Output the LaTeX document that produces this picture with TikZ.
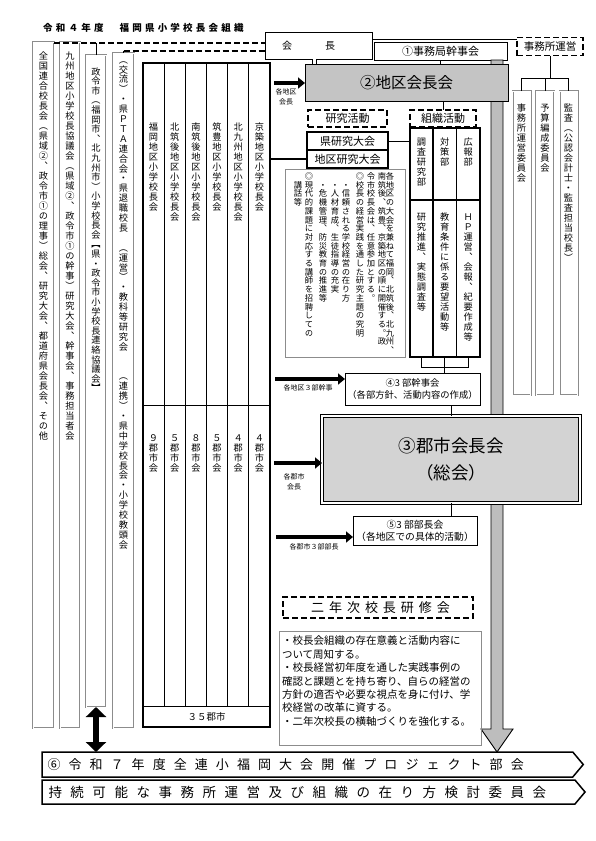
\documentclass[tikz,border=0pt]{standalone}
\usepackage{fontspec}
\usepackage{tikz}
\usetikzlibrary{arrows.meta,positioning,calc,shapes.symbols}
\newfontfamily\jp{Noto Sans CJK JP}
\newfontfamily\jpv[RawFeature=+vert]{Noto Sans CJK JP}
\definecolor{bargray}{HTML}{BDBDBD}
\definecolor{boxgray}{HTML}{C4C4C4}
\definecolor{sgray}{HTML}{D3D3D3}
\definecolor{linegray}{HTML}{8C8C8C}
\newcommand{\tatech}[1]{\ifx#1\relax\else\hbox to 1em{\hss\vrule height .88em depth .12em width 0pt\relax #1\hss}\expandafter\tatech\fi}
\newcommand{\tatebox}[4][10pt]{\vbox to #3{\edef\tatetmp{#4}\jpv\baselineskip=#1\relax\lineskiplimit=-5pt\vskip#2\relax\expandafter\tatech\tatetmp\relax\vfill}}
\newcommand{\tateline}[2][8.7pt]{\vbox{\edef\tatetmp{#2}\jpv\baselineskip=#1\relax\lineskiplimit=-5pt\expandafter\tatech\tatetmp\relax}}
\tikzset{
  box/.style={rectangle, draw, line width=0.8pt, inner sep=0pt, outer sep=0pt, align=center,
              font=\jp\fontsize{10}{12}\selectfont},
  colbox/.style={rectangle, draw=linegray, double=white, double distance=1pt, line width=0.5pt,
                 inner sep=0pt, outer sep=0pt, font=\fontsize{9.2}{10}\selectfont},
  cellbox/.style={rectangle, draw, line width=1pt, inner sep=0pt, outer sep=0pt,
                  font=\fontsize{9.2}{10}\selectfont},
  dashbox/.style={box, line width=1.8pt, dash pattern=on 6pt off 3pt},
  mainbox/.style={box, fill=boxgray, font=\jp\fontsize{15.5}{18}\selectfont},
  notebox/.style={rectangle, draw=linegray, line width=0.6pt, inner sep=0pt, outer sep=0pt},
  lbl/.style={font=\jp\fontsize{7}{10}\selectfont, align=center, inner sep=0pt},
  link/.style={draw, line width=0.9pt},
  dashlink/.style={draw, line width=1.6pt, dash pattern=on 6pt off 3pt},
  bigarrow/.style={line width=4.5pt, -{Triangle[length=7pt,width=11pt]}},
  updown/.style={line width=6pt, {Triangle[length=10pt,width=20pt]}-{Triangle[length=10pt,width=20pt]}},
  banner/.style={signal, signal to=east, signal pointer angle=100, draw, line width=1.5pt,
                 inner sep=0pt, outer sep=0pt, text width=520pt, align=left},
}
\begin{document}
\begin{tikzpicture}[x=1pt,y=-1pt]
\path[use as bounding box, fill=white] (0,0) rectangle (595,841);

\node[anchor=west, inner sep=0pt, font=\jp\bfseries\fontsize{9.5}{11}\selectfont] (title) at (43,27.5)
 {\addfontfeature{LetterSpace=34}令和４年度　福岡県小学校長会組織};

\node[box, minimum width=107pt, minimum height=27pt] (kaicho) at (318.5,45.5) {会\hspace{33pt}長\hspace{20pt}};
\node[box, minimum width=133pt, minimum height=18pt, font=\jp\fontsize{11}{12}\selectfont] (kanji) at (440.5,51) {①事務局幹事会};
\node[dashbox, minimum width=66pt, minimum height=18pt, font=\jp\fontsize{10.5}{12}\selectfont] (unei) at (550,46.5) {事務所運営};

\coordinate (ky) at (0,39);
\draw[link] (kaicho.east |- ky) -- (unei.west |- ky);

\foreach \i/\x/\t in {1/521.5/事務所運営委員会, 2/545/予算編成委員会, 3/568.5/監査（公認会計士・監査担当校長）}
  \node[colbox, minimum width=18pt, minimum height=304pt, anchor=north] (s\i) at (\x,91) {\tatebox{12pt}{304pt}{\t}};
\coordinate (sj) at (545,78);
\draw[link] (unei.south) -- (unei.south |- sj);
\draw[link] (s1.north) -- (s1.north |- sj) -- (s3.north |- sj) -- (s3.north);
\draw[link] (s2.north) -- (s2.north |- sj);

\coordinate (gt) at (497,60);
\coordinate (gb) at (497,752);
\filldraw[fill=bargray, draw=black, line width=0.9pt] ($(gt)+(-6,0)$) -- ($(gb)+(-6,-23)$) -- ($(gb)+(-16,-23)$)
  -- (gb) -- ($(gb)+(16,-23)$) -- ($(gb)+(6,-23)$) -- ($(gt)+(6,0)$) -- cycle;

\node[mainbox, minimum width=203pt, minimum height=37pt] (chiku) at (406.5,82.5) {②地区会長会};
\coordinate (kd) at (314.5,0);
\draw[link, double, double distance=3pt, line width=0.6pt] (kaicho.south -| kd) -- (chiku.north -| kd);
\draw[link] (kanji.south) -- (kanji.south |- chiku.north);
\coordinate (a1) at (274,83);
\draw[bigarrow] (a1) -- (a1 -| chiku.west);
\node[lbl] (l1) at (286,97) {各地区\\会長};

\node[dashbox, minimum width=79pt, minimum height=17pt, font=\jp\fontsize{11}{12}\selectfont] (kenkyu) at (347.5,118.5) {研究活動};
\node[dashbox, minimum width=66pt, minimum height=17pt, font=\jp\fontsize{11}{12}\selectfont] (soshiki) at (443,118.5) {組織活動};
\draw[link] (chiku.south -| soshiki.north) -- (soshiki.north);

\node[box, line width=1.4pt, minimum width=81pt, minimum height=18pt, font=\jp\fontsize{11}{12}\selectfont] (kenken) at (347.5,141) {県研究大会};
\node[box, line width=1.4pt, minimum width=81pt, minimum height=18pt, font=\jp\fontsize{11}{12}\selectfont, below=0pt of kenken] (chiken) {地区研究大会};

\foreach \i/\x/\w/\t/\b in {1/421.5/23/調査研究部/研究推進、実態調査等, 2/444.75/23.5/対策部/教育条件に係る要望活動等, 3/468.25/23.5/広報部/ＨＰ運営、会報、紀要作成等} {
  \node[cellbox, line width=1.3pt, minimum width=\w pt, minimum height=72pt] (t\i) at (\x,164) {\tatebox{9pt}{72pt}{\t}};
  \node[cellbox, line width=1.3pt, minimum width=\w pt, minimum height=157pt, below=0pt of t\i] (b\i) {\tatebox{12pt}{157pt}{\b}};
}
\draw[link] (kenken.east) -- (kenken.east -| t1.west);

\node[rectangle, draw, line width=1.4pt, minimum width=127pt, minimum height=664pt, inner sep=0pt, outer sep=0pt] (dtable) at (206.5,395) {};
\foreach \i/\nm/\n in {1/福岡/９, 2/北筑後/５, 3/南筑後/８, 4/筑豊/５, 5/北九州/４, 6/京築/４} {
  \node[cellbox, minimum width=21.17pt, minimum height=342pt, anchor=north west] (u\i) at ({143+21.17*(\i-1)},63) {\tatebox{59pt}{342pt}{\nm 地区小学校長会}};
  \node[cellbox, minimum width=21.17pt, minimum height=301pt, below=0pt of u\i] (g\i) {\tatebox{28pt}{301pt}{\n 郡市会}};
}
\node[box, line width=1pt, minimum width=127pt, minimum height=21pt, anchor=north west, font=\jp\fontsize{9.5}{11}\selectfont] (sanju) at (g1.south west) {３５郡市};
\draw[link, line width=1.3pt] (chiken.west -| dtable.east) -- (chiken.west);

\node[notebox, minimum width=120pt, minimum height=188pt] (note) at (345,263) {};
\foreach \i/\x/\t in {1/390/各地区の大会を兼ねて福岡、北筑後、北九州、, 2/382/南筑後、筑豊、京築地区の順に開催する。政,
  3/371/令市校長会は、任意参加とする。, 4/360/◎校長の経営実践を通した研究主題の究明, 5/346/　・信頼される学校経営の在り方,
  6/335/　・人材育成、生徒指導の充実, 7/323/　・危機管理、防災教育の推進等, 8/309/◎現代的課題に対応する講師を招聘しての, 9/298/　講話等}
  \node[anchor=north, inner sep=0pt, font=\fontsize{8.3}{8.7}\selectfont] (nt\i) at (\x,172) {\tateline{\t}};

\node[box, minimum width=135pt, minimum height=32pt, font=\jp\fontsize{9.3}{12}\selectfont] (yon) at (412.5,389) {④3 部幹事会\\（各部方針、活動内容の作成）};
\coordinate (tj) at (444.75,367);
\draw[link] (b1.south) -- (b1.south |- tj) -- (b3.south |- tj) -- (b3.south);
\draw[link] (b2.south) -- (b2.south |- yon.north);
\coordinate (a4) at (275,379);
\draw[bigarrow] (a4) -- (a4 -| yon.west);
\node[lbl] (l4) at (308,388) {各地区３部幹事};

\node[box, fill=sgray, draw=black, double=white, double distance=1.3pt, line width=0.9pt, minimum width=258pt, minimum height=87pt,
      font=\jp\fontsize{17.5}{27}\selectfont] (san) at (451,459.5) {③郡市会長会\\（総会）};
\draw[link] (yon.south -| san.north) -- (san.north);
\coordinate (a3) at (274,463);
\draw[bigarrow] (a3) -- (a3 -| san.west);
\node[lbl] (l3) at (294,482) {各郡市\\会長};

\node[box, minimum width=124pt, minimum height=29pt, font=\jp\fontsize{9.8}{12}\selectfont] (go) at (415,530.5) {⑤3 部部長会\\（各地区での具体的活動）};
\draw[link] (san.south) -- (san.south |- go.north);
\coordinate (a5) at (276,537);
\draw[bigarrow] (a5) -- (a5 -| go.west);
\node[lbl] (l5) at (314,547) {各郡市３部部長};

\node[dashbox, minimum width=190pt, minimum height=21pt, font=\jp\fontsize{13}{14}\selectfont] (nenji) at (378,607.5)
 {\addfontfeature{LetterSpace=38}二年次校長研修会\hspace{-5pt}};
\node[notebox, inner xsep=3pt, inner ysep=5pt, below=13pt of nenji, xshift=2pt] (kenshu)
 {\parbox[c][104pt][t]{196pt}{\jp\fontsize{10.5}{13.4}\selectfont
  ・校長会組織の存在意義と活動内容に\\
  ついて周知する。\\
  ・校長経営初年度を通した実践事例の\\
  確認と課題とを持ち寄り、自らの経営の\\
  方針の適否や必要な視点を身に付け、学\\
  校経営の改革に資する。\\
  ・二年次校長の横軸づくりを強化する。}};

\node[colbox, minimum width=21pt, minimum height=686pt, anchor=north] (lc1) at (43.5,42)
 {\tatebox{9pt}{686pt}{全国連合校長会（県域②、政令市①の理事）総会、研究大会、都道府県会長会、その他}};
\node[colbox, minimum width=20pt, minimum height=686pt, anchor=north] (lc2) at (70,42)
 {\tatebox{9.5pt}{686pt}{九州地区小学校長協議会（県域②、政令市①の幹事）研究大会、幹事会、事務担当者会}};
\node[colbox, minimum width=20pt, minimum height=652pt, anchor=north] (lc3) at (96,55)
 {\tatebox[9.6pt]{12pt}{652pt}{政令市（福岡市、北九州市）小学校長会【県・政令市小学校長連絡協議会】}};
\node[colbox, minimum width=21pt, minimum height=675pt, anchor=north] (lc4) at (123.5,53)
 {\tatebox[9.9pt]{2pt}{675pt}{（交流）・県ＰＴＡ連合会・県退職校長　（運営）・教科等研究会　　（連携）・県中学校長会・小学校教頭会}};

\coordinate (ya) at (0,43);
\coordinate (yb) at (0,51);
\draw[dashlink] (lc1.east |- ya) -- (kaicho.west |- ya);
\draw[dashlink] (lc4.north |- yb) -- (kaicho.west |- yb);
\draw[link] (lc3.north) -- (lc3.north |- ya);
\draw[link] (lc4.north) -- (lc4.north |- yb);

\node[banner, minimum width=541pt, minimum height=25pt, font=\jp\fontsize{13}{14}\selectfont] (b6) at (307.5,764.5)
 {\addfontfeature{LetterSpace=62}⑥令和７年度全連小福岡大会開催プロジェクト部会};
\node[banner, minimum width=543pt, minimum height=24pt, font=\jp\fontsize{13.5}{15}\selectfont] (b7) at (308.5,792)
 {\addfontfeature{LetterSpace=63}持続可能な事務所運営及び組織の在り方検討委員会};
\draw[updown] (lc3.south) -- (lc3.south |- b6.north);
\end{tikzpicture}
\end{document}
